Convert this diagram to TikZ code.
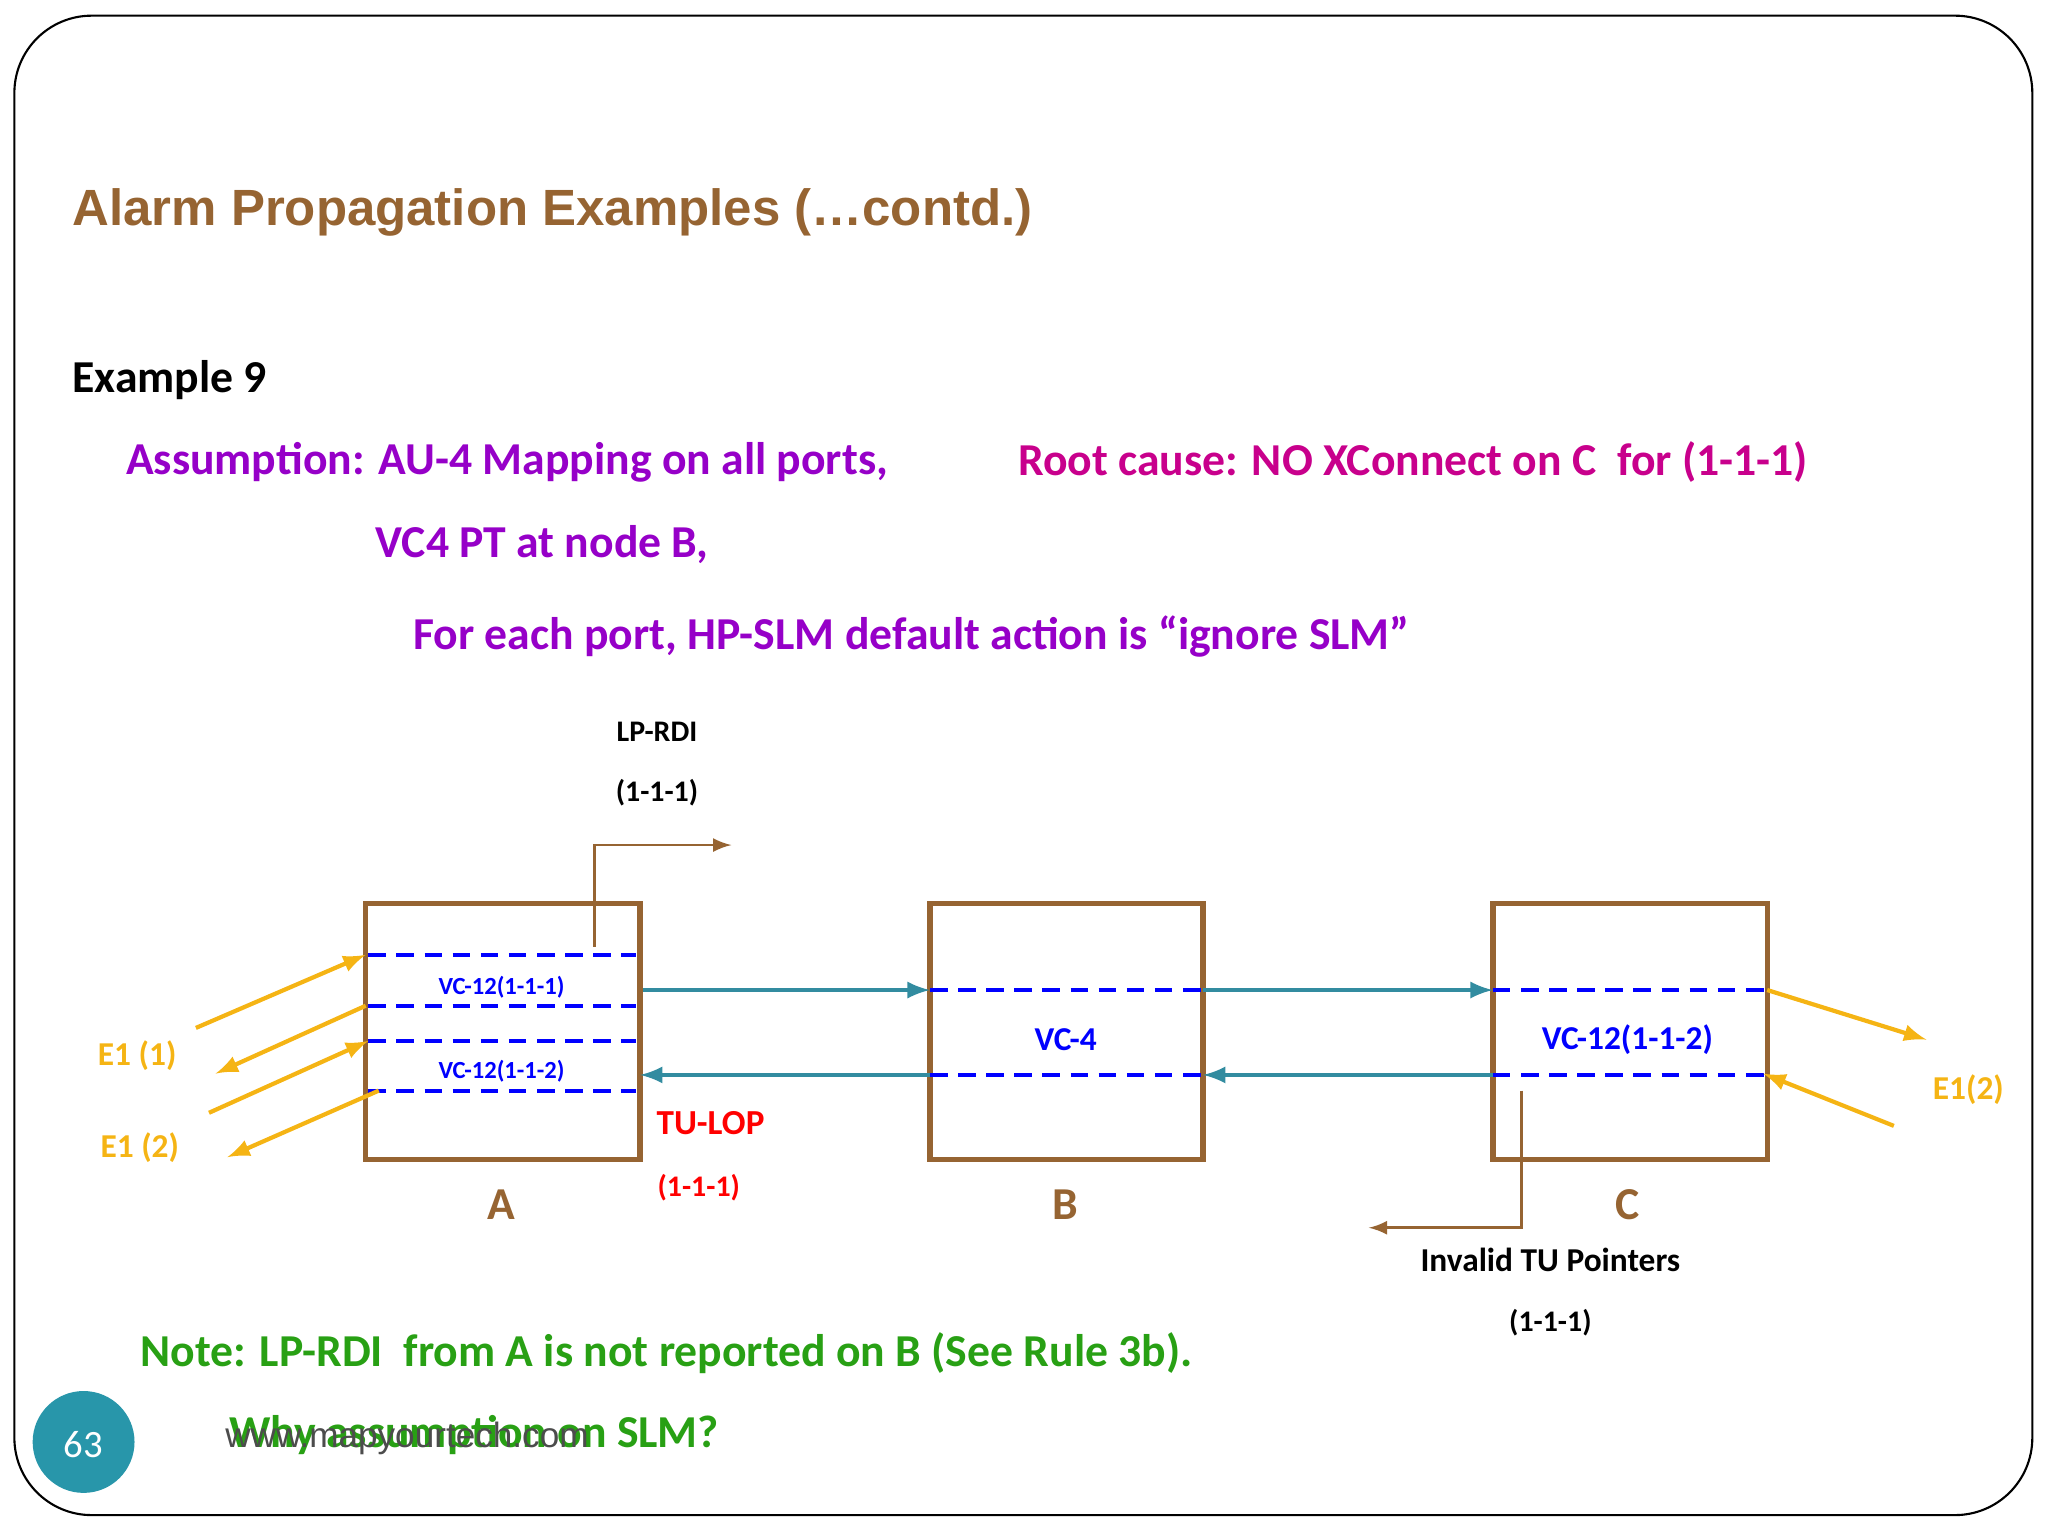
\documentclass[tikz,border=0pt]{standalone}
\usepackage{fontspec}
\setmainfont{Carlito}
\newfontfamily\titlefont{Liberation Sans}
\newfontfamily\webfont{Liberation Sans}
\usetikzlibrary{positioning}
\definecolor{ttlbrown}{RGB}{150,100,50}
\definecolor{asmpurple}{RGB}{150,0,200}
\definecolor{rootmag}{RGB}{200,0,140}
\definecolor{eorange}{RGB}{245,180,20}
\definecolor{linkteal}{RGB}{50,140,160}
\definecolor{notegreen}{RGB}{40,160,20}
\definecolor{pgteal}{RGB}{40,150,170}
\tikzset{
  nebox/.style={draw=ttlbrown, line width=1.5pt},
  vcline/.style={draw=blue, line width=1.1pt, dash pattern=on 5pt off 3pt},
  link/.style={draw=linkteal, line width=1.2pt, -latex},
  eline/.style={draw=eorange, line width=1.2pt, -latex},
  alarm/.style={draw=ttlbrown, line width=0.8pt, -latex},
  lbl/.style={font=\bfseries\fontsize{8.5}{10}\selectfont},
  body/.style={anchor=west, inner sep=0pt, font=\bfseries\fontsize{13}{15}\selectfont},
}
\begin{document}
\begin{tikzpicture}[x=0.01306cm, y=-0.01306cm]
  \useasboundingbox (0,0) rectangle (1568,1176);
  \draw[rounded corners=22pt, line width=0.6pt] (11,12) rectangle (1556,1160);
  % title and text
  \node[anchor=west, inner sep=0pt, text=ttlbrown, font=\titlefont\bfseries\fontsize{14.5}{17}\selectfont] (title) at (55,163) {Alarm Propagation Examples (\dots contd.)};
  \node[body] (ex) at (55,291) {Example 9};
  \node[body, text=asmpurple] (as1) at (96,354) {Assumption: AU-4 Mapping on all ports,};
  \node[body, text=rootmag] (root) at (779,354) {Root cause: NO XConnect on C\ \ for (1-1-1)};
  \node[body, text=asmpurple] (as2) at (287,417) {VC4 PT at node B,};
  \node[body, text=asmpurple] (as3) at (316,487) {For each port, HP-SLM default action is “ignore SLM”};
  % boxes
  \draw[nebox] (280,692) rectangle (490,888);
  \draw[nebox] (712,692) rectangle (921,888);
  \draw[nebox] (1143,692) rectangle (1353,888);
  \node[text=ttlbrown, font=\bfseries\fontsize{13}{15}\selectfont] (nA) at (384,922) {A};
  \node[text=ttlbrown, font=\bfseries\fontsize{13}{15}\selectfont] (nB) at (816,922) {B};
  \node[text=ttlbrown, font=\bfseries\fontsize{13}{15}\selectfont] (nC) at (1246,922) {C};
  % VC lines
  \foreach \y in {731,770,797,835}
    \draw[vcline] (282,\y) -- (487,\y);
  \foreach \x in {712,1143}
    \foreach \y in {758,823}
      \draw[vcline] (\x,\y) -- (\x+209,\y);
  \node[text=blue, font=\bfseries\fontsize{7}{8}\selectfont] (vcA1) at (384,756) {VC-12(1-1-1)};
  \node[text=blue, font=\bfseries\fontsize{7}{8}\selectfont] (vcA2) at (384,820) {VC-12(1-1-2)};
  \node[text=blue, font=\bfseries\fontsize{9.5}{11}\selectfont] (vcB) at (816,796) {VC-4};
  \node[text=blue, font=\bfseries\fontsize{9.5}{11}\selectfont] (vcC) at (1246,796) {VC-12(1-1-2)};
  % links
  \coordinate (aT) at (492,758); \coordinate (bTl) at (712,758);
  \coordinate (bTr) at (921,758); \coordinate (cTl) at (1143,758);
  \coordinate (aB) at (490,823); \coordinate (bBl) at (712,823);
  \coordinate (bBr) at (921,823); \coordinate (cBl) at (1143,823);
  \draw[link] (aT) -- (bTl);
  \draw[link] (bTr) -- (cTl);
  \draw[link] (cBl) -- (bBr);
  \draw[link] (bBl) -- (aB);
  % E1 tributaries
  \draw[eline] (150,787) -- (280,731);
  \draw[eline] (280,770) -- (165,822);
  \draw[eline] (160,852) -- (282,797);
  \draw[eline] (290,835) -- (174,886);
  \draw[eline] (1353,758) -- (1475,796);
  \draw[eline] (1450,862) -- (1350,822);
  \node[text=eorange, font=\bfseries\fontsize{9.5}{11}\selectfont] (e1a) at (105,808) {E1 (1)};
  \node[text=eorange, font=\bfseries\fontsize{9.5}{11}\selectfont] (e1b) at (107,879) {E1 (2)};
  \node[text=eorange, font=\bfseries\fontsize{9.5}{11}\selectfont] (e1c) at (1507,834) {E1(2)};
  % alarms
  \coordinate (rdiS) at (455,725); \coordinate (rdiK) at (455,647); \coordinate (rdiE) at (560,647);
  \draw[alarm] (rdiS) -- (rdiK) -- (rdiE);
  \node[lbl] (rdi1) at (503,560) {LP-RDI};
  \node[lbl] (rdi2) at (503,607) {(1-1-1)};
  \node[lbl, text=red, font=\bfseries\fontsize{10}{12}\selectfont] (lop1) at (544,860) {TU-LOP};
  \node[lbl, text=red] (lop2) at (535,909) {(1-1-1)};
  \coordinate (tuS) at (1165,835); \coordinate (tuK) at (1165,940); \coordinate (tuE) at (1048,940);
  \draw[alarm] (tuS) -- (tuK) -- (tuE);
  \node[font=\bfseries\fontsize{9.5}{11}\selectfont] (tu1) at (1187,965) {Invalid TU Pointers};
  \node[lbl] (tu2) at (1187,1013) {(1-1-1)};
  % note
  \node[body, text=notegreen] (note) at (107,1036) {Note: LP-RDI\ \ from A is not reported on B (See Rule 3b).};
  \node[body, text=notegreen] (why) at (175,1099) {Why assumption on SLM?};
  \node[anchor=west, inner sep=0pt, text=black!70, font=\webfont\fontsize{10}{12}\selectfont] (web) at (172,1101) {www.mapyourtech.com};
  \fill[pgteal] (64,1104) circle (39);
  \node[text=white, font=\fontsize{11}{13}\selectfont] (pg) at (64,1106) {63};
\end{tikzpicture}
\end{document}
